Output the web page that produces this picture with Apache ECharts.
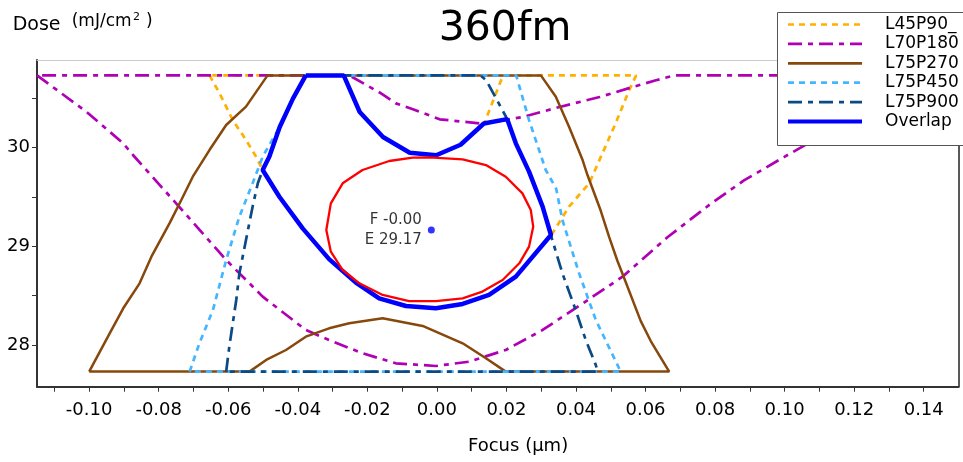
<!DOCTYPE html>
<html>
<head>
<meta charset="utf-8">
<script src="https://cdn.jsdelivr.net/npm/echarts@6/dist/echarts.min.js"></script>
<style>
html,body{margin:0;padding:0;background:#fff;}
#chart{width:963px;height:462px;}
</style>
</head>
<body>
<div id="chart"></div>
<script>
// ---- axis ticks / labels ----
const focusTicks = [-0.11,-0.10,-0.09,-0.08,-0.07,-0.06,-0.05,-0.04,-0.03,-0.02,-0.01,0.00,0.01,0.02,0.03,0.04,0.05,0.06,0.07,0.08,0.09,0.10,0.11,0.12,0.13,0.14];
const focusLabels = [-0.10,-0.08,-0.06,-0.04,-0.02,0.00,0.02,0.04,0.06,0.08,0.10,0.12,0.14];
const doseTicks = [28,28.5,29,29.5,30,30.5];
const doseLabels = [28,29,30];

// ---- series (Focus µm, Dose mJ/cm2) ----
const l45p90 = [[-0.0654,30.733],[-0.0625,30.551],[-0.0587,30.28],[-0.0549,30.078],[-0.0520,29.909],[-0.0501,29.774],
  [-0.0453,29.503],[-0.0386,29.182],[-0.0310,28.87],[-0.0233,28.632],[-0.0166,28.473],[-0.0089,28.395],[-0.0003,28.372],
  [0.0074,28.416],[0.0150,28.507],[0.0227,28.693],[0.0330,29.12],[0.0380,29.402],[0.0438,29.639],[0.0476,29.943],
  [0.0514,30.247],[0.0553,30.584],[0.0573,30.733],[0.0190,30.733],[0.0137,30.255],[0.0068,30.03],[-0.0002,29.923],
  [-0.0078,29.949],[-0.0155,30.108],[-0.0222,30.362],[-0.0268,30.733],[-0.0654,30.733]];

const l70p180 = [[-0.115,30.733],[-0.1008,30.365],[-0.0902,30.044],[-0.0874,29.926],[-0.0750,29.436],[-0.0606,28.861],
  [-0.0501,28.49],[-0.0377,28.152],[-0.0310,28.05],[-0.0214,27.916],[-0.0118,27.814],[-0.0003,27.787],[0.0093,27.831],
  [0.0198,27.949],[0.0304,28.152],[0.0419,28.42],[0.0534,28.693],[0.0663,29.092],[0.0787,29.43],[0.0883,29.668],
  [0.0998,29.905],[0.1046,30.0],[0.115,30.22],[0.126,30.47],[0.138,30.733],[0.0682,30.733],[0.0630,30.683],
  [0.0563,30.615],[0.0468,30.514],[0.0353,30.413],[0.0247,30.311],[0.0132,30.243],[0.0008,30.288],[-0.0069,30.39],
  [-0.0118,30.449],[-0.0165,30.56],[-0.0252,30.733],[-0.115,30.733]];

const l75p270 = [[-0.1000,27.73],[-0.0539,27.73],[-0.0491,27.848],[-0.0434,27.949],[-0.0377,28.084],[-0.0310,28.169],
  [-0.0252,28.22],[-0.0156,28.27],[-0.0041,28.193],[0.0074,28.017],[0.0141,27.865],[0.0198,27.73],[0.0668,27.73],
  [0.0615,28.04],[0.0586,28.244],[0.0534,28.719],[0.0519,28.854],[0.0495,29.098],[0.0471,29.363],[0.0433,29.723],
  [0.0419,29.875],[0.0380,30.213],[0.0342,30.517],[0.0299,30.733],[-0.0487,30.733],[-0.0549,30.416],[-0.0606,30.23],
  [-0.0654,29.976],[-0.0702,29.706],[-0.0735,29.47],[-0.0769,29.233],[-0.0821,28.895],[-0.0855,28.625],[-0.0902,28.372],
  [-0.0941,28.118],[-0.1000,27.73]];

const l75p450 = [[-0.0711,27.73],[-0.0683,28.017],[-0.0644,28.355],[-0.0606,28.861],[-0.0568,29.301],[-0.0530,29.639],
  [-0.0501,29.909],[-0.0482,30.027],[-0.0452,30.21],[-0.0414,30.497],[-0.0377,30.733],[0.0228,30.733],[0.0265,30.28],
  [0.0313,29.774],[0.0343,29.584],[0.0361,29.267],[0.0409,28.726],[0.0457,28.253],[0.0524,27.764],[0.0529,27.73],
  [-0.0711,27.73]];

const l75p900 = [[-0.0606,27.73],[-0.0597,27.983],[-0.0577,28.456],[-0.0568,28.726],[-0.0549,29.064],[-0.0530,29.402],
  [-0.0515,29.639],[-0.0501,29.774],[-0.0482,29.909],[-0.0452,30.21],[-0.0414,30.497],[-0.0377,30.733],[0.0125,30.733],
  [0.0142,30.683],[0.0199,30.311],[0.0227,30.044],[0.0265,29.757],[0.0304,29.402],[0.0332,29.064],[0.0361,28.726],
  [0.0399,28.355],[0.0428,28.051],[0.0457,27.797],[0.0462,27.73],[-0.0606,27.73]];

const overlap = [[-0.0377,30.733],[-0.0268,30.733],[-0.0222,30.362],[-0.0155,30.108],[-0.0078,29.949],[-0.0002,29.923],
  [0.0068,30.03],[0.0135,30.245],[0.0202,30.29],[0.0227,30.044],[0.0265,29.757],[0.0304,29.402],[0.0328,29.115],
  [0.0227,28.693],[0.0150,28.507],[0.0074,28.416],[-0.0003,28.372],[-0.0089,28.395],[-0.0166,28.473],[-0.0233,28.632],
  [-0.0310,28.87],[-0.0386,29.182],[-0.0453,29.503],[-0.0501,29.774],[-0.0482,29.909],[-0.0452,30.21],[-0.0414,30.497],
  [-0.0377,30.733]];

const ellipse = [[-0.0022,29.902],[0.0074,29.882],[0.0141,29.824],[0.0198,29.706],[0.0246,29.537],[0.0270,29.368],
  [0.0277,29.199],[0.0265,28.997],[0.0237,28.828],[0.0189,28.659],[0.0131,28.541],[0.0074,28.473],[-0.0003,28.445],
  [-0.0080,28.445],[-0.0156,28.507],[-0.0223,28.625],[-0.0271,28.76],[-0.0305,28.946],[-0.0318,29.166],[-0.0305,29.436],
  [-0.0271,29.639],[-0.0214,29.774],[-0.0137,29.865],[-0.0070,29.899],[-0.0022,29.902]];

const bestPoint = [[-0.0016,29.166]];

const legendNames = ['L45P90_', 'L70P180', 'L75P270', 'L75P450', 'L75P900', 'Overlap'];

const FONT = 'DejaVu Sans';

function lineSeries(name, data, color, width, dash) {
  return {
    name: name, type: 'line', data: data, symbol: 'none', smooth: false,
    xAxisIndex: 0, yAxisIndex: 0,
    lineStyle: { color: color, width: width, type: dash },
    itemStyle: { color: color },
    emphasis: { disabled: true }, silent: true
  };
}

const chart = echarts.init(document.getElementById('chart'), null, { renderer: 'canvas' });
chart.setOption({
  animation: false,
  backgroundColor: '#ffffff',
  title: {
    text: '360fm', left: 505, top: 9, textAlign: 'center', padding: 0,
    textStyle: { fontFamily: FONT, fontSize: 41, fontWeight: 'normal', color: '#000', lineHeight: 41 }
  },
  grid: { left: 37, right: 4.5, top: 60, bottom: 75.3, containLabel: false },
  legend: {
    orient: 'vertical', left: 777, top: 12, z: 200,
    padding: [4, 10, 10, 9],
    itemWidth: 74, itemHeight: 15, itemGap: 2.4,
    selectedMode: false,
    itemStyle: { opacity: 0, borderWidth: 0 },
    data: [
      { name: legendNames[0], lineStyle: { width: 2.7 } },
      { name: legendNames[1], lineStyle: { width: 2.7 } },
      { name: legendNames[2], lineStyle: { width: 2.7 } },
      { name: legendNames[3], lineStyle: { width: 2.7 } },
      { name: legendNames[4], lineStyle: { width: 2.7 } },
      { name: legendNames[5], lineStyle: { width: 4 } }
    ],
    textStyle: { fontFamily: FONT, fontSize: 17, color: '#000', padding: [0, 0, 0, 18] }
  },
  xAxis: [{
    type: 'value', min: -0.115, max: 0.15, position: 'bottom',
    axisLine: { show: true, onZero: false, lineStyle: { color: '#333', width: 2 } },
    axisTick: { show: true, customValues: focusTicks, length: 5, lineStyle: { color: '#333', width: 1 } },
    axisLabel: { show: true, customValues: focusLabels, formatter: v => Number(v).toFixed(2),
      fontFamily: FONT, fontSize: 18, color: '#000', margin: 15 },
    splitLine: { show: false }
  }, {
    type: 'value', min: -0.115, max: 0.15, position: 'top',
    axisLine: { show: true, onZero: false, lineStyle: { color: '#cccccc', width: 1 } },
    axisTick: { show: false }, axisLabel: { show: false }, splitLine: { show: false }
  }],
  yAxis: [{
    type: 'value', min: 27.577, max: 30.889, position: 'left',
    axisLine: { show: true, onZero: false, lineStyle: { color: '#333', width: 2 } },
    axisTick: { show: true, customValues: doseTicks, length: 5, lineStyle: { color: '#333', width: 1 } },
    axisLabel: { show: true, customValues: doseLabels, formatter: v => String(v),
      fontFamily: FONT, fontSize: 18, color: '#000', margin: 7 },
    splitLine: { show: false }
  }, {
    type: 'value', min: 27.577, max: 30.889, position: 'right',
    axisLine: { show: true, onZero: false, lineStyle: { color: '#222', width: 1.5 } },
    axisTick: { show: false }, axisLabel: { show: false }, splitLine: { show: false }
  }],
  graphic: {
    z: 100,
    elements: [
      { type: 'rect', z: 100, shape: { x: 777.5, y: 12.5, width: 210, height: 133 },
        style: { fill: '#ffffff', stroke: '#555555', lineWidth: 1 }, silent: true },
      { type: 'text', left: 12.7, top: 16, style: { text: 'Dose', font: '19px "DejaVu Sans"', fill: '#000' } },
      { type: 'text', left: 71.7, top: 13, style: { text: '(mJ/cm', font: '17px "DejaVu Sans"', fill: '#000' } },
      { type: 'text', left: 133, top: 12, style: { text: '2', font: '11px "DejaVu Sans"', fill: '#000' } },
      { type: 'text', left: 146, top: 13, style: { text: ')', font: '17px "DejaVu Sans"', fill: '#000' } },
      { type: 'text', left: 468, top: 437, style: { text: 'Focus (\u03bcm)', font: '18px "DejaVu Sans"', fill: '#000' } }
    ]
  },
  series: [
    lineSeries('L45P90_', l45p90, '#ffb000', 2.7, [6, 5]),
    lineSeries('L70P180', l70p180, '#b000b4', 2.7, [14, 6, 5, 6]),
    lineSeries('L75P270', l75p270, '#87480c', 2.5, 'solid'),
    lineSeries('L75P450', l75p450, '#45b5ff', 2.7, [6, 5]),
    lineSeries('L75P900', l75p900, '#0b4a85', 2.7, [14, 6, 5, 6]),
    lineSeries('Overlap', overlap, '#0000ff', 4.5, 'solid'),
    lineSeries('ellipse', ellipse, '#ff0000', 2.3, 'solid'),
    {
      name: 'best', type: 'scatter', data: bestPoint, symbolSize: 7,
      itemStyle: { color: '#0000ff' }, silent: true,
      label: {
        show: true, position: 'left', distance: 6,
        formatter: p => 'F ' + p.value[0].toFixed(2) + '\nE ' + p.value[1].toFixed(2),
        fontFamily: FONT, fontSize: 15, lineHeight: 20, color: '#000'
      }
    }
  ]
});
</script>
</body>
</html>
